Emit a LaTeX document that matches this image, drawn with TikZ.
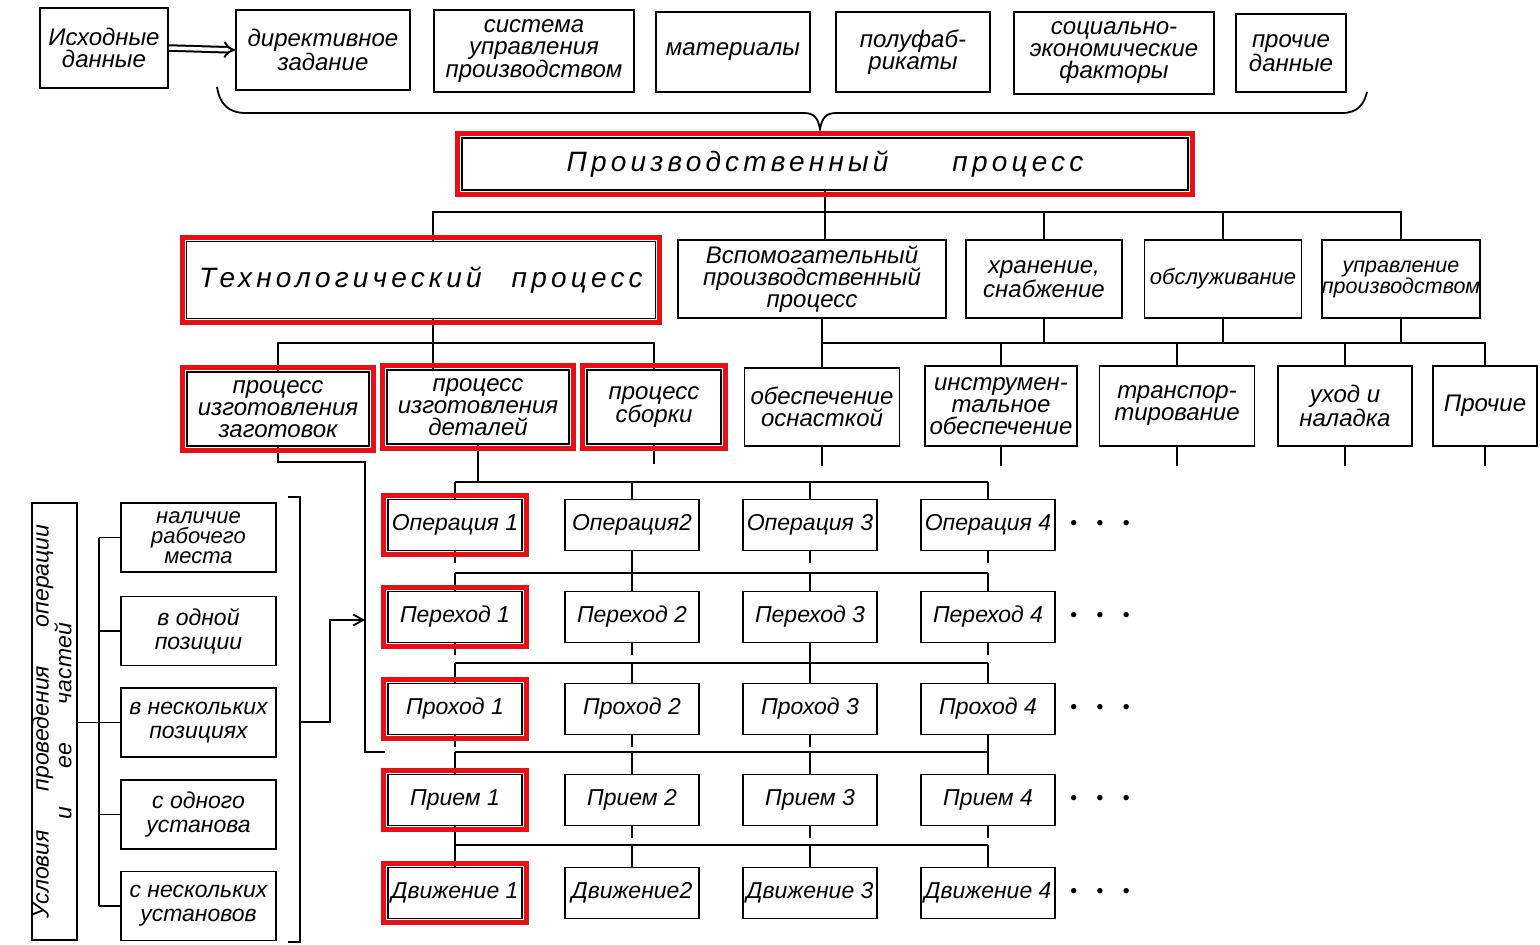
\documentclass[tikz,border=0pt]{standalone}
\usepackage{fontspec}
\usepackage{graphicx}
\newfontfamily\gost{Liberation Sans}
\usetikzlibrary{arrows.meta,calc}
\definecolor{framered}{RGB}{232,16,20}

\begin{document}
\begin{tikzpicture}[x=1pt, y=-1pt,
  box/.style={draw, line width=1.8pt, inner sep=0pt, align=center,
    font=\gost\itshape\fontsize{24}{22}\selectfont},
  small/.style={font=\gost\itshape\fontsize{22}{20}\selectfont},
  head/.style={font=\gost\itshape\fontsize{28}{28}\selectfont\addfontfeature{LetterSpace=15}},
  cell/.style={box, minimum width=134pt, minimum height=51pt,
    font=\gost\itshape\fontsize{23}{23}\selectfont},
  cond/.style={box, minimum width=155pt, minimum height=69pt,
    font=\gost\itshape\fontsize{23}{24}\selectfont},
  more/.style={font=\fontsize{24}{24}\selectfont, inner sep=0pt},
  link/.style={line width=1.8pt},
  hl/.style={draw=framered, line width=5pt},
  dblarrow/.style={double, double distance=3.5pt, line width=2pt, -{Implies}},
]
\fill[white] (0,0) rectangle (1540,945);
\useasboundingbox (0,0) rectangle (1540,945);

% ---------- input data row ----------
\node[box, minimum width=128pt, minimum height=80pt] (src) at (104,48) {Исходные\\данные};
\node[box, minimum width=174pt, minimum height=80pt] (dir) at (323,50) {директивное\\задание};
\node[box, minimum width=200pt, minimum height=82pt] (sys) at (534,51) {система\\управления\\производством};
\node[box, minimum width=154pt, minimum height=80pt] (mat) at (733,52) {материалы};
\node[box, minimum width=154pt, minimum height=80pt] (semi) at (913,52) {полуфаб-\\рикаты};
\node[box, minimum width=200pt, minimum height=82pt] (soc) at (1114,53) {социально-\\экономические\\факторы};
\node[box, minimum width=110pt, minimum height=78pt] (misc) at (1291,53) {прочие\\данные};

\draw[dblarrow] (src.east) -- (dir.west);

% brace gathering the inputs
\draw[link] (217,87) .. controls (220,104) and (228,113) .. (246,113)
  -- (804,113) .. controls (814,113) and (818,118) .. (820,129)
  .. controls (822,118) and (826,113) .. (836,113)
  -- (1342,113) .. controls (1358,113) and (1364,104) .. (1367,92);

% ---------- production process ----------
\node[box, head, minimum width=726pt, minimum height=52pt] (prod) at (825,164)
  {Производственный \hspace{40pt} процесс};

\coordinate (y1) at (0,212);
\coordinate (y2) at (0,343);
\coordinate (ya) at (0,462);
\coordinate (y3) at (0,482);
\coordinate (y4) at (0,573);
\coordinate (y5) at (0,663);
\coordinate (y6) at (0,752);
\coordinate (y7) at (0,845);

% ---------- second level ----------
\node[box, head, minimum width=469pt, minimum height=77pt] (tech) at (421,280)
  {Технологический \hspace{6pt} процесс};
\node[box, minimum width=268pt, minimum height=78pt] (aux) at (812,279)
  {Вспомогательный\\производственный\\процесс};
\node[box, minimum width=156pt, minimum height=78pt] (store) at (1044,279) {хранение,\\снабжение};
\node[box, small, minimum width=157pt, minimum height=78pt] (serv) at (1223,279) {обслуживание};
\node[box, minimum width=157pt, minimum height=78pt, font=\gost\itshape\fontsize{21.5}{21}\selectfont] (mgmt) at (1401,279) {управление\\производством};

% ---------- third level ----------
\node[box, minimum width=182pt, minimum height=74pt] (zag) at (278,409) {процесс\\изготовления\\заготовок};
\node[box, minimum width=182pt, minimum height=74pt] (det) at (478,407) {процесс\\изготовления\\деталей};
\node[box, minimum width=134pt, minimum height=74pt] (asm) at (654,407) {процесс\\сборки};
\node[box, minimum width=155pt, minimum height=78pt] (tool) at (822,407) {обеспечение\\оснасткой};
\node[box, minimum width=152pt, minimum height=80pt] (instr) at (1001,406) {инструмен-\\тальное\\обеспечение};
\node[box, minimum width=155pt, minimum height=80pt] (trans) at (1177,406) {транспор-\\тирование};
\node[box, minimum width=134pt, minimum height=80pt] (care) at (1345,406) {уход и\\наладка};
\node[box, minimum width=104pt, minimum height=80pt] (other) at (1485,406) {Прочие};

% ---------- operation grid ----------
\node[cell] (op1) at (455,525) {Операция 1};
\node[cell] (op2) at (632,525) {Операция2};
\node[cell] (op3) at (810,525) {Операция 3};
\node[cell] (op4) at (988,525) {Операция 4};
\node[cell] (tr1) at (455,617) {Переход 1};
\node[cell] (tr2) at (632,617) {Переход 2};
\node[cell] (tr3) at (810,617) {Переход 3};
\node[cell] (tr4) at (988,617) {Переход 4};
\node[cell] (ps1) at (455,709) {Проход 1};
\node[cell] (ps2) at (632,709) {Проход 2};
\node[cell] (ps3) at (810,709) {Проход 3};
\node[cell] (ps4) at (988,709) {Проход 4};
\node[cell] (pr1) at (455,800) {Прием 1};
\node[cell] (pr2) at (632,800) {Прием 2};
\node[cell] (pr3) at (810,800) {Прием 3};
\node[cell] (pr4) at (988,800) {Прием 4};
\node[cell] (mv1) at (455,893) {Движение 1};
\node[cell] (mv2) at (632,893) {Движение2};
\node[cell] (mv3) at (810,893) {Движение 3};
\node[cell] (mv4) at (988,893) {Движение 4};

\foreach \r/\y in {1/525,2/617,3/709,4/800,5/893}
  \node[more] (dots\r) at (1100,\y) {\textbullet\hspace{9pt}\textbullet\hspace{9pt}\textbullet};

% ---------- conditions column ----------
\node[box, minimum width=45pt, minimum height=437pt, font=\gost\itshape\fontsize{23}{19}\selectfont] (cond) at (54.5,721.5)
  {\rotatebox{90}{\begin{tabular}{@{}c@{}}Условия \hspace{26pt} проведения \hspace{26pt} операции\\и \hspace{26pt} ее \hspace{26pt} частей\end{tabular}}};
\node[cond, font=\gost\itshape\fontsize{22}{20}\selectfont] (c1) at (198.5,537.5) {наличие\\рабочего\\места};
\node[cond] (c2) at (198.5,631) {в одной\\позиции};
\node[cond] (c3) at (198.5,722.5) {в нескольких\\позициях};
\node[cond] (c4) at (198.5,814.5) {с одного\\установа};
\node[cond] (c5) at (198.5,906) {с нескольких\\установов};

% ---------- connectors: upper tree ----------
\draw[link] (prod.south) -- (prod.south |- aux.north);
\draw[link] ([xshift=12pt]tech.north) -- ([xshift=12pt]tech.north |- y1) -- (mgmt.north |- y1) -- (mgmt.north);
\draw[link] (store.north) -- (store.north |- y1);
\draw[link] (serv.north) -- (serv.north |- y1);

\draw[link] ([xshift=12pt]tech.south) -- ([xshift=12pt]tech.south |- det.north);
\draw[link] (zag.north) -- (zag.north |- y2) -- (asm.north |- y2) -- (asm.north);

\draw[link] (tool.north |- aux.south) -- (tool.north);
\draw[link] (tool.north |- y2) -- (other.north |- y2) -- (other.north);
\foreach \n in {store,serv,mgmt} \draw[link] (\n.south) -- (\n.south |- y2);
\foreach \n in {instr,trans,care} \draw[link] (\n.north |- y2) -- (\n.north);
\foreach \n in {asm,tool,instr,trans,care,other} \draw[link] (\n.south) -- ++(0,19);

% ---------- connectors: grid ----------
\draw[link] (det.south) -- (det.south |- y3);
\draw[link] (op1.north |- y3) -- (op4.north |- y3);
\foreach \n in {op1,op2,op3,op4} \draw[link] (\n.north |- y3) -- (\n.north);

\draw[link] (op2.south) -- (tr2.north);
\draw[link] (tr1.north |- y4) -- (tr4.north |- y4);
\foreach \n in {tr1,tr3,tr4} \draw[link] (\n.north |- y4) -- (\n.north);
\foreach \n in {op1,op3,op4} \draw[link] (\n.south) -- ++(0,12);

\draw[link] (tr3.south) -- (ps3.north);
\draw[link] (ps1.north |- y5) -- (ps4.north |- y5);
\foreach \n in {ps1,ps2,ps4} \draw[link] (\n.north |- y5) -- (\n.north);
\foreach \n in {tr1,tr2,tr4} \draw[link] (\n.south) -- ++(0,12);

\draw[link] (ps4.south) -- (pr4.north);
\draw[link] (pr1.north |- y6) -- (pr4.north |- y6);
\foreach \n in {pr1,pr2,pr3} \draw[link] (\n.north |- y6) -- (\n.north);
\foreach \n in {ps1,ps2,ps3} \draw[link] (\n.south) -- ++(0,12);

\draw[link] (pr1.south) -- (mv1.north);
\draw[link] (mv1.north |- y7) -- (mv4.north |- y7);
\foreach \n in {mv2,mv3,mv4} \draw[link] (\n.north |- y7) -- (\n.north);
\foreach \n in {pr2,pr3,pr4} \draw[link] (\n.south) -- ++(0,12);

% ---------- connectors: conditions ----------
\coordinate (feed) at (365,620);
\draw[link] (zag.south) -- (zag.south |- ya) -- (feed |- ya) -- (feed |- y6) -- ++(20,0);
\draw[link] (cond.east |- c3.west) -- (c3.west);
\draw[link] ([xshift=-21pt]c1.west) -- ([xshift=-21pt]c5.west);
\foreach \n in {c1,c2,c4,c5} \draw[link] (\n.west) -- ++(-21,0);
\draw[link] (288,497) -- (300,497) -- (300,942) -- (288,942);
\draw[link, -{Straight Barb[length=10pt,width=11pt]}] (300,722) -- (330,722) -- (330,620) -- (feed);

% ---------- highlighted boxes ----------
\foreach \n in {prod,tech,zag,det,asm,op1,tr1,ps1,pr1,mv1}
  \draw[hl] ($(\n.south west)+(-3.5,3.5)$) rectangle ($(\n.north east)+(3.5,-3.5)$);
\end{tikzpicture}
\end{document}
